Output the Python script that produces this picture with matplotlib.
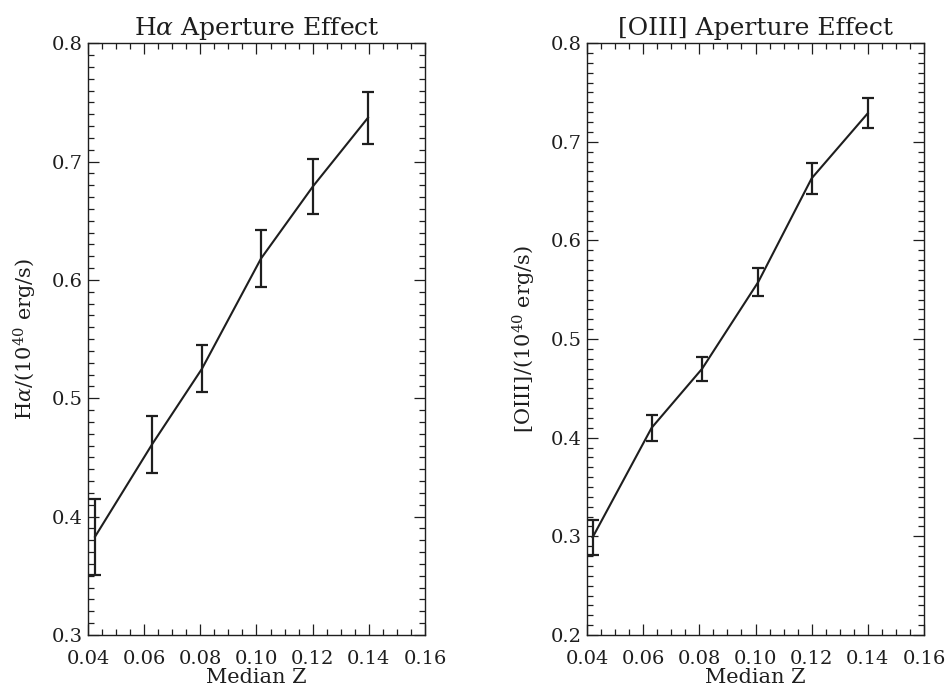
import numpy as np
import matplotlib
matplotlib.use("Agg")
import matplotlib.pyplot as plt
from matplotlib.ticker import MultipleLocator, FormatStrFormatter

# median redshift of each bin
z_ha = [0.0425, 0.0628, 0.0806, 0.1016, 0.1201, 0.1397]
ha_lum = [0.383, 0.461, 0.525, 0.618, 0.679, 0.737]
ha_err = [0.032, 0.024, 0.020, 0.024, 0.023, 0.022]

z_oiii = [0.042, 0.063, 0.081, 0.101, 0.120, 0.140]
oiii_lum = [0.299, 0.410, 0.470, 0.558, 0.663, 0.729]
oiii_err = [0.018, 0.013, 0.012, 0.014, 0.016, 0.015]

# thin serif text, close to the IDL Hershey look
plt.rcParams['font.family'] = ['DejaVu Serif']
plt.rcParams['mathtext.fontset'] = 'dejavuserif'

ink = '#1e1e1e'

fig = plt.figure(figsize=(9.48, 6.93), dpi=100)
ax1 = fig.add_axes([0.0928, 0.0837, 0.3555, 0.854])
ax2 = fig.add_axes([0.6192, 0.0837, 0.3555, 0.854])

panels = [
    (ax1, z_ha, ha_lum, ha_err, 0.3, r'H$\alpha$ Aperture Effect', r'H$\alpha$/(10$^{40}$ erg/s)'),
    (ax2, z_oiii, oiii_lum, oiii_err, 0.2, '[OIII] Aperture Effect', r'[OIII]/(10$^{40}$ erg/s)'),
]

for ax, x, y, e, ymin, title, ylab in panels:
    ax.errorbar(x, y, yerr=e, color=ink, linewidth=1.5, elinewidth=1.6,
                capsize=4.5, capthick=1.6)
    ax.set_xlim(0.04, 0.16)
    ax.set_ylim(ymin, 0.8)
    ax.xaxis.set_major_locator(MultipleLocator(0.02))
    ax.xaxis.set_minor_locator(MultipleLocator(0.005))
    ax.yaxis.set_major_locator(MultipleLocator(0.1))
    ax.yaxis.set_minor_locator(MultipleLocator(0.01))
    ax.xaxis.set_major_formatter(FormatStrFormatter('%.2f'))
    ax.yaxis.set_major_formatter(FormatStrFormatter('%.1f'))
    ax.tick_params(which='both', direction='in', top=True, right=True,
                   width=0.9, colors=ink, labelcolor=ink)
    ax.tick_params(which='major', length=8, labelsize=14)
    ax.tick_params(axis='x', which='major', pad=11)
    ax.tick_params(axis='y', which='major', pad=4)
    ax.tick_params(which='minor', length=4)
    for sp in ax.spines.values():
        sp.set_linewidth(1.0)
        sp.set_color(ink)
    ax.set_title(title, fontsize=18, pad=6, color=ink)
    ax.set_xlabel('Median Z', fontsize=15, labelpad=0, color=ink)
    ax.set_ylabel(ylab, fontsize=15, labelpad=9, color=ink)

fig.savefig('out.png', dpi=100)
